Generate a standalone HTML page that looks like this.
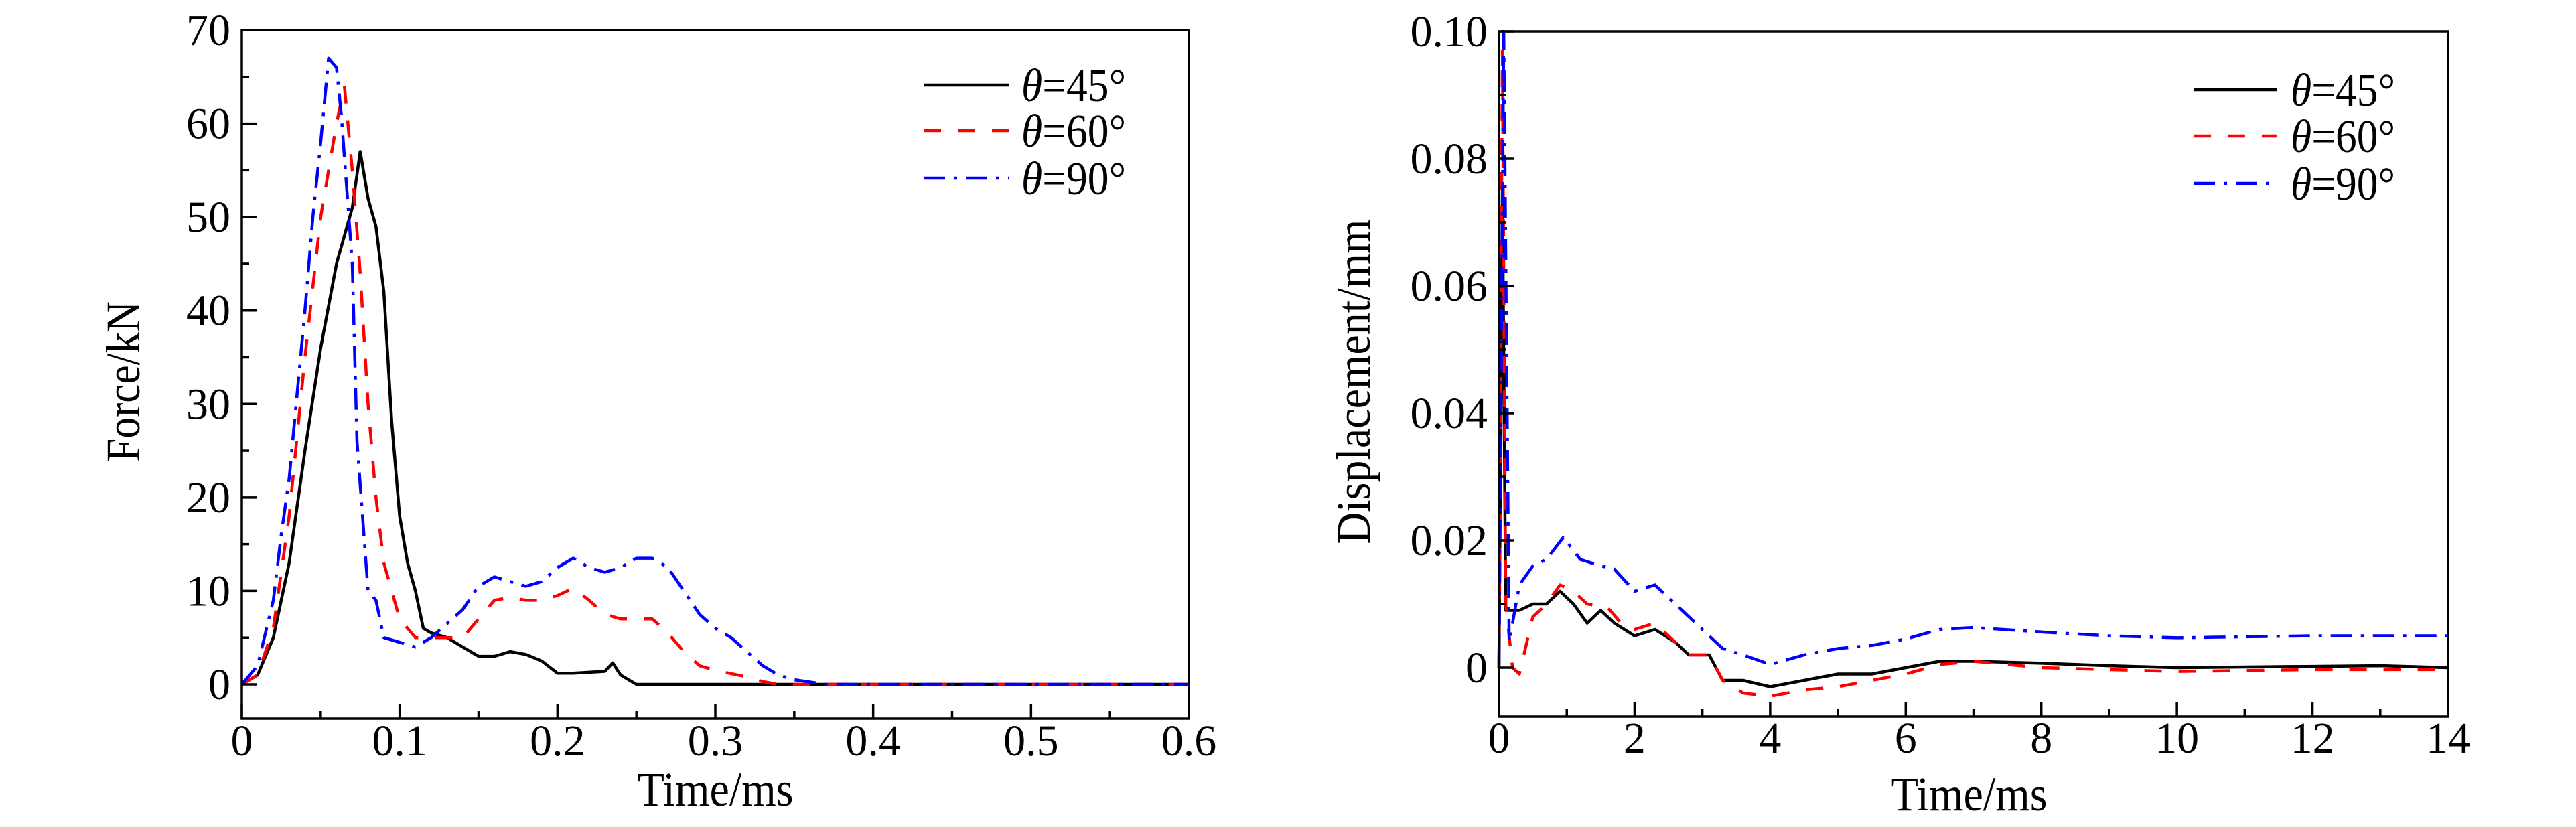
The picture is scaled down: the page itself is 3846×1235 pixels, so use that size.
<!DOCTYPE html>
<html><head><meta charset="utf-8"><style>
html,body{margin:0;padding:0;background:#fff;}
svg{display:block;}
text{font-family:"Liberation Serif",serif;fill:#000;}
</style></head><body>
<svg id="chart" width="3846" height="1235" viewBox="0 0 3846 1235" xmlns="http://www.w3.org/2000/svg">
<g id="left"></g>
<g id="right"></g>
</svg>
<script>
// ---- Force chart data ----
const forceT45 = [0,0.01,0.02,0.03,0.04,0.05,0.06,0.07,0.075,0.08,0.085,0.09,0.095,0.1,0.105,0.11,0.115,0.12,0.13,0.14,0.15,0.16,0.17,0.18,0.19,0.2,0.21,0.22,0.23,0.235,0.24,0.25,0.6];
const forceV45 = [0,1,5,13,25,36,45,51,57,52,49,42,28,18,13,10,6,5.5,5,4,3,3,3.5,3.2,2.5,1.2,1.2,1.3,1.4,2.3,1,0,0];
const forceT60 = [0,0.01,0.02,0.03,0.04,0.05,0.06,0.065,0.07,0.075,0.08,0.085,0.09,0.1,0.11,0.12,0.13,0.14,0.15,0.16,0.17,0.18,0.19,0.2,0.21,0.22,0.23,0.24,0.25,0.26,0.27,0.28,0.29,0.3,0.32,0.33,0.34,0.6];
const forceV60 = [0,1,6,18,35,50,60,64,55,44,30,20,13,7,5,5,5,5,7,9,9.3,9,9,9.5,10.3,9,7.5,7,7,7,5.5,3.5,2,1.5,0.8,0.3,0,0];
const forceT90 = [0,0.01,0.02,0.025,0.03,0.04,0.045,0.05,0.055,0.06,0.063,0.07,0.073,0.08,0.085,0.09,0.1,0.11,0.12,0.13,0.14,0.15,0.16,0.17,0.18,0.19,0.2,0.21,0.22,0.23,0.24,0.25,0.26,0.27,0.28,0.29,0.3,0.31,0.32,0.33,0.34,0.35,0.37,0.6];
const forceV90 = [0,2,9,16,22,40,50,58,67,66,61,45,26,10,9,5,4.5,4,5,6.5,8,10.5,11.5,11,10.5,11,12.5,13.5,12.5,12,12.5,13.5,13.5,12.5,10,7.5,6,5,3.5,2,1,0.5,0,0];
const forceXTicks = [0,0.1,0.2,0.3,0.4,0.5,0.6];
const forceXTickLabels = ["0","0.1","0.2","0.3","0.4","0.5","0.6"];
const forceYTicks = [0,10,20,30,40,50,60,70];
const forceYTickLabels = ["0","10","20","30","40","50","60","70"];
// ---- Displacement chart data ----
const dispT45 = [0,0.05,0.1,0.3,0.5,0.7,0.9,1.1,1.3,1.5,1.7,2.0,2.3,2.6,2.8,3.1,3.3,3.6,4.0,4.5,5,5.5,6,6.5,7,8,9,10,12,13,14];
const dispV45 = [0,0.075,0.009,0.009,0.01,0.01,0.012,0.01,0.007,0.009,0.007,0.005,0.006,0.004,0.002,0.002,-0.002,-0.002,-0.003,-0.002,-0.001,-0.001,0,0.001,0.001,0.0007,0.0003,0,0.0002,0.0003,0];
const dispT60 = [0,0.05,0.1,0.2,0.3,0.5,0.7,0.9,1.1,1.3,1.6,1.8,2.0,2.3,2.6,2.8,3.1,3.3,3.6,4.0,4.5,5,5.5,6,6.5,7,8,9,10,12,14];
const dispV60 = [0,0.097,0.01,0,-0.001,0.008,0.01,0.013,0.012,0.01,0.0095,0.007,0.006,0.007,0.004,0.002,0.002,-0.002,-0.004,-0.0045,-0.0035,-0.003,-0.002,-0.001,0.0005,0.001,0,-0.0003,-0.0006,-0.0003,-0.0003];
const dispT90 = [0,0.07,0.15,0.3,0.5,0.7,0.95,1.2,1.5,1.7,2.0,2.3,2.6,3.0,3.3,3.6,4.0,4.5,5.0,5.5,6.0,6.5,7,8,9,10,12,14];
const dispV90 = [0,0.1,0.004,0.013,0.016,0.017,0.0205,0.017,0.016,0.0155,0.012,0.013,0.01,0.006,0.003,0.002,0.0005,0.002,0.003,0.0035,0.0045,0.006,0.0063,0.0056,0.005,0.0047,0.005,0.005];
const dispXTicks = [0,2,4,6,8,10,12,14];
const dispXTickLabels = ["0","2","4","6","8","10","12","14"];
const dispYTicks = [0,0.02,0.04,0.06,0.08,0.10];
const dispYTickLabels = ["0","0.02","0.04","0.06","0.08","0.10"];
const legendLabels = ["45","60","90"];

const NS="http://www.w3.org/2000/svg";
function mk(parent,tag,attrs){const e=document.createElementNS(NS,tag);for(const k in attrs)e.setAttribute(k,attrs[k]);parent.appendChild(e);return e;}
const styles=[{c:"#000",d:"none"},{c:"#ff0000",d:"26 25"},{c:"#0000ff",d:"32 13 5 13"}];

function drawChart(g,cfg){
  const sx=v=>cfg.x0+(v-cfg.xmin)/(cfg.xmax-cfg.xmin)*(cfg.x1-cfg.x0);
  const sy=v=>cfg.yZero-(v/cfg.yTop)*(cfg.yZero-cfg.top);
  // series
  cfg.series.forEach((s,i)=>{
    let d="";
    s.t.forEach((t,j)=>{d+=(j?"L":"M")+sx(t).toFixed(1)+","+sy(s.v[j]).toFixed(1);});
    const p=mk(g,"path",{d:d,fill:"none",stroke:styles[i].c,"stroke-width":4.5,"stroke-dasharray":styles[i].d,"stroke-linejoin":"round"});
    
    
  });
  // frame
  const fr=mk(g,"rect",{x:cfg.x0,y:cfg.top,width:cfg.x1-cfg.x0,height:cfg.bottom-cfg.top,fill:"none",stroke:"#000","stroke-width":3.5});
  
  
  // x ticks
  cfg.xTicks.forEach((t,i)=>{
    const x=sx(t);
    const tk=mk(g,"line",{x1:x,x2:x,y1:cfg.bottom,y2:cfg.bottom-22,stroke:"#000","stroke-width":3.5});
    
    
    const lb=mk(g,"text",{x:x,y:cfg.xLabelY,"font-size":66,"text-anchor":"middle"});
    lb.textContent=cfg.xLabels[i];
    
    
    if(i<cfg.xTicks.length-1){
      const xm=sx((t+cfg.xTicks[i+1])/2);
      const mt=mk(g,"line",{x1:xm,x2:xm,y1:cfg.bottom,y2:cfg.bottom-11,stroke:"#000","stroke-width":3.5});
      
      
    }
  });
  // y ticks
  cfg.yTicks.forEach((t,i)=>{
    const y=sy(t);
    const tk=mk(g,"line",{x1:cfg.x0,x2:cfg.x0+22,y1:y,y2:y,stroke:"#000","stroke-width":3.5});
    
    
    const lb=mk(g,"text",{x:cfg.yLabelX,y:y+22,"font-size":66,"text-anchor":"end"});
    lb.textContent=cfg.yLabels[i];
    
    
    if(i<cfg.yTicks.length-1){
      const ym=sy((t+cfg.yTicks[i+1])/2);
      const mt=mk(g,"line",{x1:cfg.x0,x2:cfg.x0+11,y1:ym,y2:ym,stroke:"#000","stroke-width":3.5});
      
      
    }
  });
  // axis titles
  const xt=mk(g,"text",{x:cfg.xTitleX,y:cfg.xTitleY,"font-size":72,"text-anchor":"middle",textLength:233,lengthAdjust:"spacingAndGlyphs"});
  xt.textContent="Time/ms";
  
  
  const yt=mk(g,"text",{x:0,y:0,"font-size":72,"text-anchor":"middle",textLength:cfg.yTitleLen,lengthAdjust:"spacingAndGlyphs",transform:"translate("+cfg.yTitleX+","+cfg.yTitleY+") rotate(-90)"});
  yt.textContent=cfg.yTitle;
  
  
  // legend
  cfg.legRows.forEach((ry,i)=>{
    const lg=mk(g,"g",{});
    
    
    mk(lg,"line",{x1:cfg.legX0,x2:cfg.legX1,y1:ry,y2:ry,stroke:styles[i].c,"stroke-width":4.5,"stroke-dasharray":styles[i].d});
    const tx=mk(lg,"text",{x:cfg.legTX,y:ry+24,"font-size":70,textLength:156,lengthAdjust:"spacingAndGlyphs"});
    const th=mk(tx,"tspan",{"font-style":"italic"});th.textContent="θ";
    const rest=mk(tx,"tspan",{});rest.textContent="="+legendLabels[i]+"°";
  });
}

drawChart(document.getElementById("left"),{
  x0:361,x1:1775,top:45,bottom:1073,xmin:0,xmax:0.6,yZero:1022,yTop:70,
  series:[{t:forceT45,v:forceV45},{t:forceT60,v:forceV60},{t:forceT90,v:forceV90}],
  xTicks:forceXTicks,xLabels:forceXTickLabels,yTicks:forceYTicks,yLabels:forceYTickLabels,
  xLabelY:1128,yLabelX:344,xTitleX:1068,xTitleY:1203,yTitle:"Force/kN",yTitleLen:240,yTitleX:208,yTitleY:570,
  legRows:[127,195,266],legX0:1379,legX1:1507,legTX:1525
});
drawChart(document.getElementById("right"),{
  x0:2238,x1:3655,top:47,bottom:1070,xmin:0,xmax:14,yZero:997,yTop:0.10,
  series:[{t:dispT45,v:dispV45},{t:dispT60,v:dispV60},{t:dispT90,v:dispV90}],
  xTicks:dispXTicks,xLabels:dispXTickLabels,yTicks:dispYTicks,yLabels:dispYTickLabels,
  xLabelY:1124,yLabelX:2221,xTitleX:2940,xTitleY:1210,yTitle:"Displacement/mm",yTitleLen:485,yTitleX:2045,yTitleY:570,
  legRows:[134,203,274],legX0:3275,legX1:3400,legTX:3420
});
</script>
</body></html>
